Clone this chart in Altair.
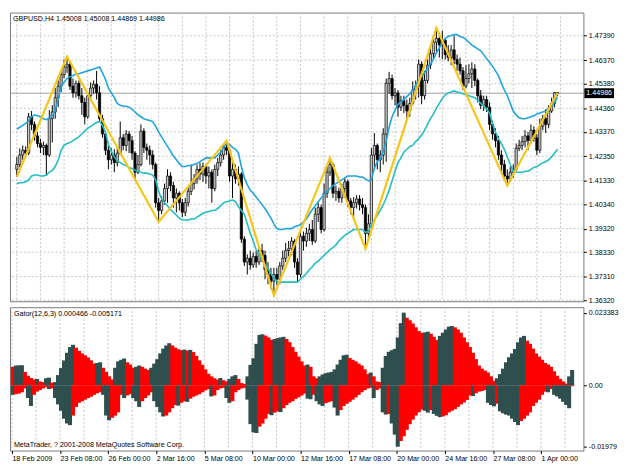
import altair as alt
import pandas as pd

# ---------------- data ----------------
time_labels = ["18 Feb 2009", "23 Feb 08:00", "26 Feb 00:00", "2 Mar 16:00", "5 Mar 08:00",
               "10 Mar 00:00", "12 Mar 16:00", "17 Mar 08:00", "20 Mar 00:00", "24 Mar 16:00",
               "27 Mar 08:00", "1 Apr 00:00"]
price_ticks = [1.47390, 1.46370, 1.45380, 1.44360, 1.43370, 1.42350, 1.41330, 1.40340,
               1.39320, 1.38330, 1.37310, 1.36320]
gator_ticks = [0.023383, 0.0, -0.01979]
gator_tick_labels = ["0.023383", "0.00", "-0.01979"]
last_price = 1.44986
header_text = "GBPUSD,H4  1.45008 1.45008 1.44869 1.44986"
gator_text = "Gator(12,6,3) 0.000466 -0.005171"
footer_text = "MetaTrader, ? 2001-2008 MetaQuotes Software Corp."

candle_open = [
    1.4180, 1.4200, 1.4240, 1.4260, 1.4248, 1.4400, 1.4368, 1.4320, 1.4288, 1.4272,
    1.4280, 1.4240, 1.4392, 1.4420, 1.4480, 1.4528, 1.4576, 1.4608, 1.4620, 1.4528,
    1.4500, 1.4540, 1.4488, 1.4460, 1.4400, 1.4488, 1.4520, 1.4536, 1.4500, 1.4392,
    1.4328, 1.4260, 1.4220, 1.4240, 1.4208, 1.4248, 1.4312, 1.4280, 1.4328, 1.4300,
    1.4248, 1.4168, 1.4200, 1.4340, 1.4272, 1.4260, 1.4240, 1.4200, 1.4040, 1.4008,
    1.4048, 1.4100, 1.4152, 1.4112, 1.4060, 1.4080, 1.4040, 1.4000, 1.4040, 1.4088,
    1.4120, 1.4140, 1.4180, 1.4160, 1.4192, 1.4152, 1.4168, 1.4100, 1.4180, 1.4208,
    1.4240, 1.4272, 1.4260, 1.4152, 1.4180, 1.4140, 1.4160, 1.3888, 1.3792, 1.3808,
    1.3780, 1.3816, 1.3792, 1.3840, 1.3820, 1.3760, 1.3740, 1.3712, 1.3740, 1.3720,
    1.3776, 1.3808, 1.3840, 1.3848, 1.3880, 1.3792, 1.3740, 1.3900, 1.3880, 1.3912,
    1.3928, 1.3880, 1.3992, 1.4020, 1.3928, 1.4080, 1.4168, 1.4200, 1.4080, 1.4088,
    1.4060, 1.4100, 1.4128, 1.4048, 1.4020, 1.4040, 1.4056, 1.4032, 1.4020, 1.3912,
    1.3952, 1.4240, 1.4280, 1.4220, 1.4240, 1.4328, 1.4540, 1.4560, 1.4488, 1.4500,
    1.4440, 1.4468, 1.4448, 1.4424, 1.4456, 1.4512, 1.4528, 1.4620, 1.4488, 1.4552,
    1.4616, 1.4664, 1.4712, 1.4728, 1.4700, 1.4720, 1.4660, 1.4648, 1.4680, 1.4640,
    1.4620, 1.4592, 1.4528, 1.4560, 1.4580, 1.4600, 1.4552, 1.4488, 1.4448, 1.4472,
    1.4440, 1.4368, 1.4328, 1.4300, 1.4240, 1.4200, 1.4152, 1.4140, 1.4168, 1.4180,
    1.4268, 1.4280, 1.4296, 1.4320, 1.4300, 1.4344, 1.4312, 1.4260, 1.4360, 1.4392,
    1.4368, 1.4424, 1.4456, 1.45008]
candle_high = [
    1.4232, 1.4268, 1.4280, 1.4276, 1.4416, 1.4424, 1.4380, 1.4336, 1.4308, 1.4296,
    1.4288, 1.4428, 1.4448, 1.4520, 1.4552, 1.4592, 1.4640, 1.4652, 1.4632, 1.4560,
    1.4552, 1.4552, 1.4520, 1.4480, 1.4504, 1.4544, 1.4552, 1.4592, 1.4528, 1.4408,
    1.4340, 1.4280, 1.4268, 1.4264, 1.4272, 1.4380, 1.4328, 1.4344, 1.4340, 1.4320,
    1.4256, 1.4240, 1.4368, 1.4352, 1.4288, 1.4280, 1.4260, 1.4208, 1.4060, 1.4068,
    1.4120, 1.4180, 1.4168, 1.4128, 1.4100, 1.4088, 1.4056, 1.4060, 1.4104, 1.4200,
    1.4160, 1.4200, 1.4208, 1.4208, 1.4200, 1.4192, 1.4180, 1.4200, 1.4228, 1.4260,
    1.4288, 1.4300, 1.4272, 1.4220, 1.4200, 1.4192, 1.4168, 1.3900, 1.3824, 1.3840,
    1.3832, 1.3840, 1.3860, 1.3868, 1.3840, 1.3792, 1.3768, 1.3768, 1.3768, 1.3792,
    1.3840, 1.3872, 1.3880, 1.3896, 1.3888, 1.3808, 1.3928, 1.3920, 1.3936, 1.3952,
    1.3968, 1.4020, 1.4040, 1.4032, 1.4120, 1.4192, 1.4228, 1.4208, 1.4112, 1.4104,
    1.4120, 1.4144, 1.4136, 1.4060, 1.4064, 1.4072, 1.4072, 1.4060, 1.4032, 1.3992,
    1.4268, 1.4332, 1.4288, 1.4260, 1.4352, 1.4560, 1.4588, 1.4576, 1.4520, 1.4512,
    1.4488, 1.4488, 1.4472, 1.4480, 1.4548, 1.4552, 1.4640, 1.4632, 1.4592, 1.4640,
    1.4696, 1.4740, 1.4772, 1.4752, 1.4760, 1.4728, 1.4700, 1.4700, 1.4740, 1.4660,
    1.4648, 1.4608, 1.4616, 1.4620, 1.4628, 1.4620, 1.4560, 1.4512, 1.4488, 1.4488,
    1.4460, 1.4384, 1.4352, 1.4320, 1.4260, 1.4220, 1.4180, 1.4192, 1.4200, 1.4288,
    1.4304, 1.4320, 1.4344, 1.4336, 1.4368, 1.4360, 1.4328, 1.4392, 1.4408, 1.4432,
    1.4448, 1.4480, 1.4504, 1.45008]
candle_low = [
    1.4148, 1.4188, 1.4220, 1.4232, 1.4240, 1.4344, 1.4300, 1.4272, 1.4248, 1.4240,
    1.4152, 1.4232, 1.4292, 1.4392, 1.4440, 1.4504, 1.4560, 1.4584, 1.4512, 1.4480,
    1.4480, 1.4472, 1.4408, 1.4368, 1.4392, 1.4472, 1.4496, 1.4472, 1.4380, 1.4312,
    1.4240, 1.4180, 1.4200, 1.4168, 1.4192, 1.4240, 1.4260, 1.4256, 1.4248, 1.4220,
    1.4132, 1.4160, 1.4192, 1.4248, 1.4220, 1.4200, 1.4180, 1.4020, 1.3960, 1.3992,
    1.4032, 1.4040, 1.4088, 1.4020, 1.4000, 1.4008, 1.3980, 1.3984, 1.4024, 1.4072,
    1.4096, 1.4120, 1.4136, 1.4128, 1.4120, 1.4100, 1.4040, 1.4088, 1.4152, 1.4192,
    1.4220, 1.4240, 1.4128, 1.4060, 1.4120, 1.4112, 1.3872, 1.3776, 1.3740, 1.3760,
    1.3768, 1.3768, 1.3780, 1.3792, 1.3720, 1.3700, 1.3680, 1.3652, 1.3696, 1.3700,
    1.3760, 1.3792, 1.3816, 1.3820, 1.3768, 1.3712, 1.3728, 1.3840, 1.3856, 1.3880,
    1.3864, 1.3872, 1.3960, 1.3912, 1.3920, 1.4060, 1.4152, 1.4060, 1.4048, 1.4040,
    1.4040, 1.4060, 1.4024, 1.3992, 1.3968, 1.4016, 1.4008, 1.3992, 1.3848, 1.3880,
    1.3932, 1.4180, 1.4180, 1.4168, 1.4200, 1.4212, 1.4496, 1.4472, 1.4448, 1.4400,
    1.4424, 1.4416, 1.4392, 1.4400, 1.4448, 1.4472, 1.4480, 1.4452, 1.4472, 1.4540,
    1.4600, 1.4640, 1.4672, 1.4648, 1.4640, 1.4640, 1.4632, 1.4616, 1.4620, 1.4592,
    1.4576, 1.4512, 1.4520, 1.4540, 1.4520, 1.4528, 1.4460, 1.4432, 1.4424, 1.4420,
    1.4344, 1.4304, 1.4272, 1.4220, 1.4168, 1.4136, 1.4112, 1.4128, 1.4144, 1.4172,
    1.4256, 1.4260, 1.4272, 1.4260, 1.4288, 1.4296, 1.4240, 1.4248, 1.4344, 1.4332,
    1.4352, 1.4416, 1.4440, 1.44869]
candle_close = [
    1.4200, 1.4240, 1.4260, 1.4248, 1.4400, 1.4368, 1.4320, 1.4288, 1.4272, 1.4280,
    1.4240, 1.4392, 1.4420, 1.4480, 1.4528, 1.4576, 1.4608, 1.4620, 1.4528, 1.4500,
    1.4540, 1.4488, 1.4460, 1.4400, 1.4488, 1.4520, 1.4536, 1.4500, 1.4392, 1.4328,
    1.4260, 1.4220, 1.4240, 1.4208, 1.4248, 1.4312, 1.4280, 1.4328, 1.4300, 1.4248,
    1.4168, 1.4200, 1.4340, 1.4272, 1.4260, 1.4240, 1.4200, 1.4040, 1.4008, 1.4048,
    1.4100, 1.4152, 1.4112, 1.4060, 1.4080, 1.4040, 1.4000, 1.4040, 1.4088, 1.4120,
    1.4140, 1.4180, 1.4160, 1.4192, 1.4152, 1.4168, 1.4100, 1.4180, 1.4208, 1.4240,
    1.4272, 1.4260, 1.4152, 1.4180, 1.4140, 1.4160, 1.3888, 1.3792, 1.3808, 1.3780,
    1.3816, 1.3792, 1.3840, 1.3820, 1.3760, 1.3740, 1.3712, 1.3740, 1.3720, 1.3776,
    1.3808, 1.3840, 1.3848, 1.3880, 1.3792, 1.3740, 1.3900, 1.3880, 1.3912, 1.3928,
    1.3880, 1.3992, 1.4020, 1.3928, 1.4080, 1.4168, 1.4200, 1.4080, 1.4088, 1.4060,
    1.4100, 1.4128, 1.4048, 1.4020, 1.4040, 1.4056, 1.4032, 1.4020, 1.3912, 1.3952,
    1.4240, 1.4280, 1.4220, 1.4240, 1.4328, 1.4540, 1.4560, 1.4488, 1.4500, 1.4440,
    1.4468, 1.4448, 1.4424, 1.4456, 1.4512, 1.4528, 1.4620, 1.4488, 1.4552, 1.4616,
    1.4664, 1.4712, 1.4728, 1.4700, 1.4720, 1.4660, 1.4648, 1.4680, 1.4640, 1.4620,
    1.4592, 1.4528, 1.4560, 1.4580, 1.4600, 1.4552, 1.4488, 1.4448, 1.4472, 1.4440,
    1.4368, 1.4328, 1.4300, 1.4240, 1.4200, 1.4152, 1.4140, 1.4168, 1.4180, 1.4268,
    1.4280, 1.4296, 1.4320, 1.4300, 1.4344, 1.4312, 1.4260, 1.4360, 1.4392, 1.4368,
    1.4424, 1.4456, 1.4500, 1.44986]

band_upper = [
    1.4348, 1.4356, 1.4364, 1.4372, 1.4384, 1.4400, 1.4408, 1.4404, 1.4400, 1.4392,
    1.4388, 1.4396, 1.4404, 1.4428, 1.4472, 1.4528, 1.4544, 1.4560, 1.4568, 1.4572,
    1.4580, 1.4580, 1.4584, 1.4588, 1.4592, 1.4596, 1.4600, 1.4604, 1.4608, 1.4584,
    1.4556, 1.4520, 1.4500, 1.4480, 1.4456, 1.4448, 1.4444, 1.4444, 1.4440, 1.4432,
    1.4420, 1.4408, 1.4400, 1.4392, 1.4388, 1.4384, 1.4380, 1.4360, 1.4336, 1.4316,
    1.4296, 1.4276, 1.4256, 1.4236, 1.4220, 1.4204, 1.4192, 1.4192, 1.4196, 1.4196,
    1.4200, 1.4204, 1.4212, 1.4220, 1.4228, 1.4228, 1.4228, 1.4228, 1.4240, 1.4252,
    1.4272, 1.4288, 1.4284, 1.4272, 1.4264, 1.4248, 1.4192, 1.4144, 1.4116, 1.4092,
    1.4080, 1.4064, 1.4048, 1.4032, 1.4016, 1.3996, 1.3976, 1.3952, 1.3932, 1.3928,
    1.3928, 1.3932, 1.3932, 1.3932, 1.3940, 1.3944, 1.3948, 1.3960, 1.3972, 1.3992,
    1.4012, 1.4028, 1.4044, 1.4060, 1.4076, 1.4088, 1.4100, 1.4112, 1.4120, 1.4128,
    1.4136, 1.4144, 1.4152, 1.4152, 1.4152, 1.4152, 1.4148, 1.4148, 1.4140, 1.4132,
    1.4136, 1.4184, 1.4212, 1.4224, 1.4256, 1.4296, 1.4356, 1.4400, 1.4428, 1.4452,
    1.4464, 1.4472, 1.4484, 1.4496, 1.4512, 1.4532, 1.4552, 1.4568, 1.4584, 1.4604,
    1.4620, 1.4640, 1.4668, 1.4688, 1.4712, 1.4728, 1.4736, 1.4740, 1.4744, 1.4744,
    1.4736, 1.4732, 1.4724, 1.4712, 1.4700, 1.4692, 1.4684, 1.4676, 1.4660, 1.4644,
    1.4628, 1.4612, 1.4592, 1.4572, 1.4540, 1.4512, 1.4488, 1.4456, 1.4424, 1.4408,
    1.4396, 1.4392, 1.4392, 1.4396, 1.4400, 1.4404, 1.4412, 1.4416, 1.4420, 1.4424,
    1.4436, 1.4444, 1.4460, 1.4484]
band_lower = [
    1.4120, 1.4124, 1.4124, 1.4128, 1.4136, 1.4152, 1.4156, 1.4156, 1.4152, 1.4152,
    1.4156, 1.4168, 1.4176, 1.4192, 1.4220, 1.4260, 1.4280, 1.4288, 1.4292, 1.4300,
    1.4308, 1.4316, 1.4328, 1.4340, 1.4352, 1.4360, 1.4368, 1.4376, 1.4380, 1.4364,
    1.4336, 1.4284, 1.4256, 1.4232, 1.4216, 1.4208, 1.4200, 1.4196, 1.4188, 1.4184,
    1.4176, 1.4172, 1.4168, 1.4164, 1.4164, 1.4160, 1.4156, 1.4136, 1.4088, 1.4056,
    1.4040, 1.4028, 1.4012, 1.4000, 1.3988, 1.3976, 1.3968, 1.3968, 1.3968, 1.3972,
    1.3972, 1.3980, 1.3988, 1.3996, 1.4000, 1.4004, 1.4008, 1.4008, 1.4016, 1.4028,
    1.4040, 1.4044, 1.4048, 1.4052, 1.4044, 1.4024, 1.4008, 1.3992, 1.3952, 1.3912,
    1.3880, 1.3844, 1.3824, 1.3804, 1.3780, 1.3764, 1.3744, 1.3724, 1.3712, 1.3708,
    1.3708, 1.3708, 1.3708, 1.3708, 1.3708, 1.3708, 1.3720, 1.3732, 1.3744, 1.3760,
    1.3772, 1.3788, 1.3796, 1.3808, 1.3820, 1.3832, 1.3844, 1.3852, 1.3864, 1.3880,
    1.3892, 1.3904, 1.3912, 1.3920, 1.3928, 1.3928, 1.3928, 1.3928, 1.3916, 1.3920,
    1.3948, 1.3968, 1.3988, 1.4008, 1.4032, 1.4060, 1.4092, 1.4132, 1.4172, 1.4208,
    1.4228, 1.4252, 1.4264, 1.4276, 1.4280, 1.4296, 1.4308, 1.4324, 1.4344, 1.4368,
    1.4392, 1.4412, 1.4436, 1.4456, 1.4476, 1.4492, 1.4500, 1.4504, 1.4508, 1.4504,
    1.4500, 1.4496, 1.4492, 1.4488, 1.4484, 1.4480, 1.4468, 1.4456, 1.4444, 1.4432,
    1.4416, 1.4372, 1.4336, 1.4308, 1.4288, 1.4264, 1.4232, 1.4200, 1.4172, 1.4168,
    1.4168, 1.4168, 1.4172, 1.4172, 1.4180, 1.4188, 1.4192, 1.4200, 1.4208, 1.4212,
    1.4220, 1.4232, 1.4248, 1.4264]

zigzag_index = [0, 17, 48, 71, 87, 106, 118, 142, 166, 183]
zigzag_price = [1.4148, 1.4652, 1.3960, 1.4300, 1.3652, 1.4228, 1.3848, 1.4772, 1.4112, 1.45008]

gator_up = [
    0.00595, 0.00636, 0.00641, 0.00646, 0.00431, 0.00308, 0.00236, 0.00185, 0.00205, 0.00123,
    0.00103, 0.00226, 0.00246, 0.00082, 0.00103, 0.00328, 0.00554, 0.00800, 0.01047, 0.01231,
    0.01303, 0.01211, 0.01108, 0.01026, 0.00964, 0.00893, 0.00800, 0.00698, 0.00718, 0.00739,
    0.00564, 0.00431, 0.00287, 0.00185, 0.00564, 0.00770, 0.00821, 0.00862, 0.00739, 0.00667,
    0.00564, 0.00595, 0.00636, 0.00595, 0.00534, 0.00492, 0.00564, 0.00698, 0.00841, 0.01026,
    0.01180, 0.01283, 0.01354, 0.01283, 0.01211, 0.01159, 0.01129, 0.01149, 0.01118, 0.01139,
    0.01067, 0.00944, 0.00800, 0.00657, 0.00513, 0.00369, 0.00287, 0.00226, 0.00185, 0.00236,
    0.00164, 0.00123, 0.00205, 0.00287, 0.00328, 0.00205, 0.00072, 0.00041, 0.00287, 0.00657,
    0.00872, 0.01334, 0.01621, 0.01642, 0.01601, 0.01539, 0.01457, 0.01488, 0.01518, 0.01539,
    0.01560, 0.01488, 0.01385, 0.01231, 0.01077, 0.00923, 0.00770, 0.00636, 0.00667, 0.00595,
    0.00287, 0.00226, 0.00287, 0.00349, 0.00390, 0.00410, 0.00431, 0.00513, 0.00667, 0.00821,
    0.00964, 0.00985, 0.00882, 0.00821, 0.00770, 0.00698, 0.00636, 0.00513, 0.00359, 0.00410,
    0.00287, 0.00123, 0.00103, 0.00564, 0.00944, 0.01077, 0.01129, 0.01170, 0.01539, 0.02001,
    0.02338, 0.02175, 0.02093, 0.01990, 0.01867, 0.01744, 0.01683, 0.01703, 0.01724, 0.01662,
    0.01560, 0.01457, 0.01590, 0.01693, 0.01796, 0.01888, 0.01908, 0.01867, 0.01796, 0.01693,
    0.01539, 0.01385, 0.01231, 0.01047, 0.00841, 0.00636, 0.00534, 0.00472, 0.00410, 0.00287,
    0.00144, 0.00226, 0.00359, 0.00534, 0.00739, 0.00903, 0.01026, 0.01170, 0.01385, 0.01539,
    0.01590, 0.01436, 0.01334, 0.01180, 0.01026, 0.00923, 0.00821, 0.00718, 0.00667, 0.00595,
    0.00451, 0.00308, 0.00205, 0.00123, 0.00051, 0.00287, 0.00492]
gator_down = [
    -0.00308, -0.00287, -0.00267, -0.00226, -0.00103, -0.00410, -0.00667, -0.00308, -0.00205, -0.00154,
    -0.00103, -0.00062, -0.00123, -0.00103, -0.00410, -0.00616, -0.00821, -0.01077, -0.01231, -0.01283,
    -0.00975, -0.00698, -0.00564, -0.00513, -0.00462, -0.00410, -0.00369, -0.00308, -0.00257, -0.00226,
    -0.00308, -0.00975, -0.01129, -0.01047, -0.00975, -0.00872, -0.00308, -0.00410, -0.00328, -0.00287,
    -0.00410, -0.00513, -0.00698, -0.00513, -0.00410, -0.00328, -0.00226, -0.00513, -0.00698, -0.00872,
    -0.01005, -0.00975, -0.00872, -0.00739, -0.00636, -0.00657, -0.00564, -0.00513, -0.00534, -0.00431,
    -0.00369, -0.00328, -0.00287, -0.00226, -0.00164, -0.00123, -0.00359, -0.00328, -0.00154, -0.00103,
    -0.00082, -0.00410, -0.00564, -0.00513, -0.00226, -0.00154, -0.00103, -0.00082, -0.00462, -0.01252,
    -0.01518, -0.01539, -0.01334, -0.01231, -0.01077, -0.00923, -0.00964, -0.00882, -0.00841, -0.00862,
    -0.00739, -0.00636, -0.00564, -0.00513, -0.00441, -0.00390, -0.00328, -0.00267, -0.00431, -0.00451,
    -0.00308, -0.00513, -0.00616, -0.00667, -0.00575, -0.00544, -0.00513, -0.00718, -0.00975, -0.00800,
    -0.00667, -0.00595, -0.00534, -0.00462, -0.00390, -0.00308, -0.00226, -0.00154, -0.00103, -0.00082,
    -0.00410, -0.00154, -0.00103, -0.00872, -0.00944, -0.00923, -0.01231, -0.01590, -0.01979, -0.01796,
    -0.01642, -0.01436, -0.01252, -0.01108, -0.00975, -0.00872, -0.00780, -0.00821, -0.00882, -0.00800,
    -0.00923, -0.00985, -0.01026, -0.01005, -0.00964, -0.00872, -0.00821, -0.00770, -0.00698, -0.00616,
    -0.00554, -0.00472, -0.00328, -0.00349, -0.00257, -0.00205, -0.00185, -0.00154, -0.00564, -0.00636,
    -0.00677, -0.00595, -0.00841, -0.00903, -0.00944, -0.00975, -0.01077, -0.01180, -0.01283, -0.01149,
    -0.01077, -0.00975, -0.00872, -0.00667, -0.00564, -0.00462, -0.00308, -0.00205, -0.00226, -0.00123,
    -0.00308, -0.00359, -0.00431, -0.00534, -0.00636, -0.00739, -0.00031]
gator_up_first_state = "fall"
gator_down_first_state = "rise"

# ---------------- styling / layout ----------------
FONT = "Liberation Sans"
FS = 7.2
W, H1, H2 = 580, 292, 145
X_DOM = [-0.64, 190.08]
P_DOM = [1.3628, 1.4836]
G_DOM = [-0.02102, 0.02514]
GRID = "#c4c4c4"

# ---------------- frames ----------------
n_c = len(candle_close)
candles = pd.DataFrame({"i": list(range(n_c)), "open": candle_open, "high": candle_high,
                        "low": candle_low, "close": candle_close})
candles["dir"] = ["bull" if c >= o else "bear" for o, c in zip(candle_open, candle_close)]
bands = pd.DataFrame({"i": list(range(n_c)), "upper": band_upper, "lower": band_lower})
zz = pd.DataFrame({"i": zigzag_index, "p": zigzag_price})


def states(vals, first, deeper):
    out = []
    for k, v in enumerate(vals):
        if k == 0:
            out.append(first)
        else:
            grow = (abs(v) > abs(vals[k - 1])) if deeper else (v > vals[k - 1])
            out.append("rise" if grow else "fall")
    return out


n_g = len(gator_up)
gator = pd.DataFrame({
    "j": list(range(n_g)) * 2,
    "v": gator_up + gator_down,
    "state": states(gator_up, gator_up_first_state, False) + states(gator_down, gator_down_first_state, True),
    "base": [0.0] * (2 * n_g),
})
vgrid = pd.DataFrame({"i": list(range(0, 185, 8))})
hgrid = pd.DataFrame({"p": price_ticks})
tag = pd.DataFrame({"p": [last_price], "label": [f"{last_price:.5f}"]})

xs = alt.Scale(domain=X_DOM, nice=False, zero=False)
ps = alt.Scale(domain=P_DOM, nice=False, zero=False)
gs = alt.Scale(domain=G_DOM, nice=False, zero=False)

price_axis = alt.Axis(orient="right", values=price_ticks, format=".5f", grid=False, domain=False,
                      tickSize=3, tickColor="#000000", labelPadding=2, labelFont=FONT,
                      labelFontSize=FS, labelColor="#000000", title=None, labelOverlap=False)


def PX(f):
    return alt.X(f, type="quantitative", scale=xs, axis=None)


def PY(f):
    return alt.Y(f, type="quantitative", scale=ps, axis=price_axis)


hgrid_l = alt.Chart(hgrid).mark_rule(color=GRID, strokeDash=[2, 2], strokeWidth=1).encode(y=PY("p"))
vgrid_l = alt.Chart(vgrid).mark_rule(color=GRID, strokeDash=[2, 2], strokeWidth=1).encode(x=PX("i"))
pline_l = alt.Chart(tag).mark_rule(color="#a0a0a0", strokeWidth=1).encode(y=PY("p"))
wick_l = alt.Chart(candles).mark_rule(color="#000000", strokeWidth=1).encode(
    x=PX("i"), y=PY("low"), y2="high")
body_l = alt.Chart(candles).mark_bar(size=2.3, stroke="#000000", strokeWidth=0.7).encode(
    x=PX("i"), y=PY("open"), y2="close",
    fill=alt.Fill("dir:N", scale=alt.Scale(domain=["bull", "bear"], range=["#c8c8c8", "#000000"]), legend=None))
up_l = alt.Chart(bands).mark_line(color="#1fa4dd", strokeWidth=1.6).encode(x=PX("i"), y=PY("upper"))
lo_l = alt.Chart(bands).mark_line(color="#22bec4", strokeWidth=1.6).encode(x=PX("i"), y=PY("lower"))
zz_l = alt.Chart(zz).mark_line(color="#f7c518", strokeWidth=2.2).encode(x=PX("i"), y=PY("p"))
tagbox_l = alt.Chart(tag).mark_rect(color="#000000", yOffset=-5, y2Offset=5).encode(
    x=alt.value(W + 1), x2=alt.value(W + 31), y=PY("p"), y2=alt.Y2("p"))
tagtxt_l = alt.Chart(tag).mark_text(align="left", baseline="middle", color="#ffffff", font=FONT,
                                    fontSize=FS).encode(x=alt.value(W + 3), y=PY("p"), text="label:N")
head_l = alt.Chart(pd.DataFrame({"t": [header_text]})).mark_text(
    align="left", baseline="middle", font=FONT, fontSize=FS, color="#000000").encode(
    x=alt.value(3), y=alt.value(7), text="t:N")

price_panel = alt.layer(hgrid_l, vgrid_l, pline_l, wick_l, body_l, up_l, lo_l, zz_l,
                        tagbox_l, tagtxt_l, head_l).properties(width=W, height=H1)

# ---------------- Gator panel ----------------
label_idx = [16 * k for k in range(len(time_labels))]
time_js = "[" + ",".join("'" + s + "'" for s in time_labels) + "]"
time_axis = alt.Axis(orient="bottom", values=label_idx, labelExpr=time_js + "[round(datum.value/16)]",
                     labelAlign="left", labelFlush=False, labelOverlap=False, tickSize=3,
                     tickColor="#000000", domain=False, grid=False, labelPadding=1, labelFont=FONT,
                     labelFontSize=FS, labelColor="#000000", title=None)
g_expr = "datum.value > 0.001 ? '%s' : (datum.value < -0.001 ? '%s' : '%s')" % (
    gator_tick_labels[0], gator_tick_labels[2], gator_tick_labels[1])
gator_axis = alt.Axis(orient="right", values=gator_ticks, labelExpr=g_expr, grid=False, domain=False,
                      tickSize=3, tickColor="#000000", labelPadding=2, labelFont=FONT,
                      labelFontSize=FS, labelColor="#000000", title=None, labelOverlap=False)

gvgrid_l = alt.Chart(vgrid).mark_rule(color=GRID, strokeDash=[2, 2], strokeWidth=1).encode(
    x=alt.X("i:Q", scale=xs, axis=time_axis))
# each bar is drawn one unit wide plus an overlap that the next bar covers (no anti-alias seams)
hist_l = alt.Chart(gator).transform_calculate(
    x0="datum.j - 0.34", x1="datum.j + 1.0").mark_rect().encode(
    x=alt.X("x0:Q", scale=xs, axis=time_axis), x2="x1:Q",
    y=alt.Y("v:Q", scale=gs, axis=gator_axis), y2="base:Q",
    color=alt.Color("state:N", scale=alt.Scale(domain=["rise", "fall"], range=["#2f4f4f", "#ff0000"]),
                    legend=None),
    order=alt.Order("j:Q"))
gtxt_l = alt.Chart(pd.DataFrame({"t": [gator_text]})).mark_text(
    align="left", baseline="middle", font=FONT, fontSize=FS, color="#000000").encode(
    x=alt.value(4), y=alt.value(7), text="t:N")
foot_l = alt.Chart(pd.DataFrame({"t": [footer_text]})).mark_text(
    align="left", baseline="middle", font=FONT, fontSize=FS, color="#000000").encode(
    x=alt.value(4), y=alt.value(H2 - 6), text="t:N")

gator_panel = alt.layer(gvgrid_l, hist_l, gtxt_l, foot_l).properties(width=W, height=H2)

chart = alt.vconcat(price_panel, gator_panel, spacing=2).properties(
    padding={"left": 1, "top": 1, "right": 0, "bottom": 0}, background="#ffffff"
).configure_view(stroke="#7a7a7a", strokeWidth=1)

chart.save("out.html", embed_options={"renderer": "svg", "actions": False})
